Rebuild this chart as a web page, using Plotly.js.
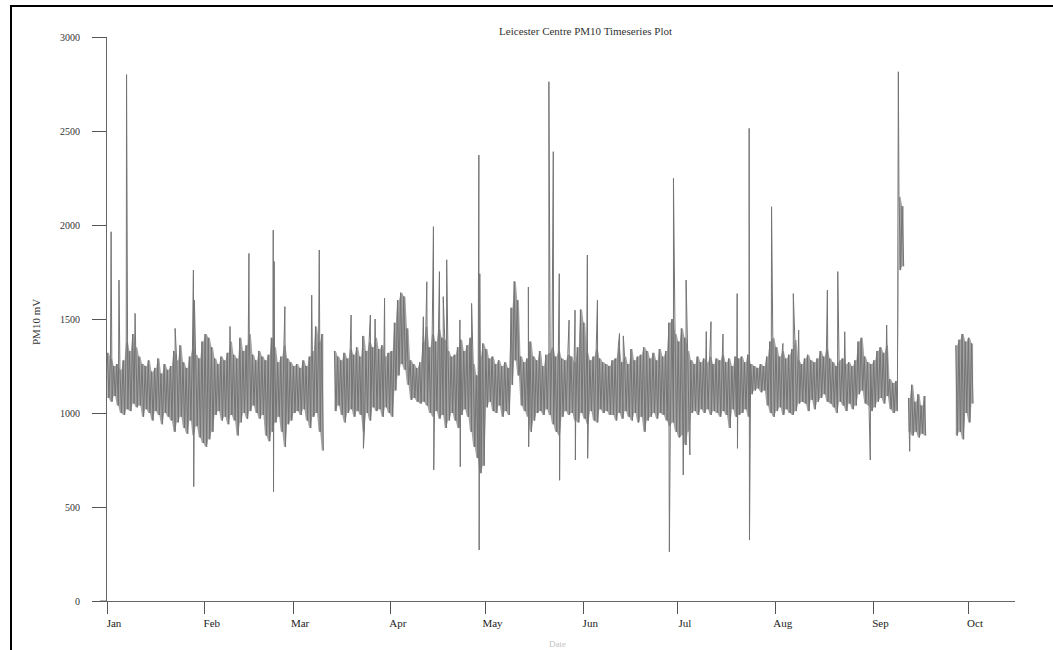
<!DOCTYPE html>
<html>
<head>
<meta charset="utf-8">
<script src="https://cdn.plot.ly/plotly-3.0.1.min.js"></script>
<style>html,body{margin:0;padding:0;background:#fff;}#chart{width:1053px;height:650px;}</style>
</head>
<body>
<div id="chart"></div>
<script>
// ---- Data ----
const chartTitle = 'Leicester Centre PM10 Timeseries Plot';
const yTitle = 'PM10 mV';
const xTitle = 'Date';
const monthLabels = ['Jan','Feb','Mar','Apr','May','Jun','Jul','Aug','Sep','Oct'];
const monthStartDay = [0,31,59,90,120,151,181,212,243,273];
const yTickValues = [0,500,1000,1500,2000,2500,3000];

// daily upper and lower envelope of the dense hourly band (day 0 = 1 Jan), null = no data
const bandHigh = [
1320,1290,1250,1260,1230,1280,1380,1330,1420,1350,
1300,1260,1250,1280,1220,1240,1290,1210,1260,1230,
1250,1330,1280,1360,1270,1240,1300,1350,1310,1290,
1380,1420,1400,1350,1290,1260,1300,1280,1320,1380,
1310,1290,1400,1330,1360,1420,1310,1280,1330,1300,
1280,1310,1400,1350,1270,1300,1360,1290,1270,1250,
1260,1240,1280,1250,1300,1330,1460,1380,1420,null,
null,null,1330,1300,1280,1320,1290,1340,1310,1350,
1300,1410,1330,1380,1350,1400,1340,1360,1300,1320,
1330,1480,1600,1640,1620,1450,1280,1260,1240,1270,
1380,1460,1350,1420,1380,1450,1400,1390,1330,1300,
1310,1350,1390,1330,1360,1400,1260,1200,1300,1370,
1340,1290,1300,1260,1280,1250,1270,1240,1560,1700,
1600,1300,1270,1290,1380,1300,1280,1330,1250,1310,
1320,1350,1300,1330,1290,1280,1310,1300,1270,1350,
1550,1480,1320,1280,1300,1340,1290,1270,1260,1250,
1280,1290,1350,1270,1300,1260,1340,1280,1300,1310,
1350,1330,1290,1320,1280,1340,1300,1330,1480,1500,
1420,1380,1450,1400,1330,1280,1260,1300,1270,1290,
1270,1300,1260,1290,1280,1310,1270,1290,1250,1300,
1290,1300,1270,1310,1260,1250,1240,1260,1250,1300,
1380,1400,1350,1300,1330,1290,1310,1340,1390,1280,
1260,1290,1310,1280,1270,1290,1330,1300,1340,1290,
1270,1250,1280,1290,1260,1270,1250,1280,1380,1400,
1300,1270,1260,1280,1330,1350,1320,1360,1180,1160,
1170,2150,2100,null,1080,1150,1060,1100,1040,1090,
null,null,null,null,null,null,null,null,null,1360,
1390,1420,1380,1400,1370
];
const bandLow = [
1080,1060,1090,1040,1000,990,1020,1010,1050,1030,
1040,980,1020,1000,960,1010,990,940,1000,980,
960,900,950,980,920,890,960,880,930,870,
840,820,860,900,990,1010,960,980,940,990,
960,880,950,1000,970,1010,1040,1000,970,990,
880,850,900,950,980,900,820,940,960,1000,
1010,990,1020,960,920,980,1000,900,800,null,
null,null,1010,1040,990,950,1000,1020,980,1010,
990,900,1000,960,1030,1010,1020,980,1030,1000,
980,1120,1200,1260,1230,1150,1070,1080,1060,1050,
1060,1040,1000,980,1010,970,990,920,960,1000,
960,920,990,1020,980,900,820,760,680,720,
1030,1060,1010,1000,1040,980,1010,990,1150,1280,
1200,1040,1010,980,900,960,1000,1010,990,1020,
990,940,900,880,980,1010,990,1000,960,950,
1000,970,940,1010,960,950,1020,1000,1010,990,
990,960,1000,970,1010,980,960,1000,950,980,
900,960,980,1000,970,1000,990,960,930,950,
900,870,880,830,900,1000,1010,990,1020,1000,
1020,990,1010,1000,980,1010,990,920,1020,980,
990,1000,1020,980,1100,1120,1130,1110,1120,1040,
1000,980,1010,1030,990,1020,1000,990,1010,1050,
1060,1050,1010,1070,1020,1060,1080,1100,1060,1050,
1030,1000,1060,1040,1010,1050,1020,1040,1100,1120,
1050,1040,1010,1030,1060,1080,1050,1090,1020,1000,
1010,1760,1780,null,900,880,900,870,890,880,
null,null,null,null,null,null,null,null,null,880,
900,860,1000,950,1050
];

// isolated hourly excursions (spikes): day of year (fractional) and value
const spikeDay = [1.3,3.8,6.2,8.9,21.6,27.4,27.5,27.7,39.0,45.0,52.7,52.8,53.0,56.4,64.9,67.3,77.4,81.3,83.5,85.0,88.0,
  100.3,101.4,103.5,103.6,105.4,106.6,107.7,111.9,112.0,115.6,117.9,118.0,118.2,133.6,133.7,140.1,141.5,143.4,143.5,
  146.5,148.4,148.5,152.3,152.4,155.5,162.5,163.7,178.3,179.6,182.7,183.6,184.8,190.0,191.5,195.3,199.8,199.9,
  203.6,203.7,210.7,214.3,217.6,219.3,228.4,231.7,233.9,242.0,247.2,250.9,254.5];
const spikeValue = [1964,1707,2800,1530,1450,1760,608,1600,1460,1849,1973,581,1806,1566,1627,1867,1521,812,1521,1500,1610,
  1512,1698,1991,697,1752,1619,1815,1495,714,1583,2372,271,1741,1670,820,2762,2390,1741,642,
  1494,1547,750,1840,759,1600,1423,1410,262,2248,670,1707,777,1433,1486,1420,1635,812,
  2514,324,2097,1370,1635,1441,1654,1752,1432,750,1468,2815,796];

// ---- Build the series ----
const DAY = 86400000;
const t0 = Date.UTC(2005,0,1);
const toMs = d => t0 + d * DAY;

// zig-zag line through the daily envelope plus spikes
const pts = [];
for (let i = 0; i < bandHigh.length; i++) {
  if (bandHigh[i] === null) { pts.push([i + 0.5, null]); continue; }
  pts.push([i + 0.1, bandHigh[i]]);
  pts.push([i + 0.6, bandLow[i]]);
}
for (let k = 0; k < spikeDay.length; k++) pts.push([spikeDay[k], spikeValue[k]]);
pts.sort((a, b) => a[0] - b[0]);

// filled envelope polygons, one per contiguous run of data
const fx = [], fy = [];
let run = [];
const flush = () => {
  if (!run.length) return;
  run.forEach(i => { fx.push(toMs(i + 0.1)); fy.push(bandHigh[i]); fx.push(toMs(i + 0.6)); fy.push(bandHigh[i]); });
  run.slice().reverse().forEach(i => { fx.push(toMs(i + 0.6)); fy.push(bandLow[i]); fx.push(toMs(i + 0.1)); fy.push(bandLow[i]); });
  fx.push(null); fy.push(null);
  run = [];
};
for (let i = 0; i < bandHigh.length; i++) { if (bandHigh[i] === null) flush(); else run.push(i); }
flush();

const serif = 'Liberation Serif, DejaVu Serif, serif';
const bandTrace = {
  x: fx, y: fy, type: 'scatter', mode: 'lines', fill: 'toself', fillcolor: '#a3a3a3',
  line: {width: 0, color: 'rgba(0,0,0,0)', simplify: false}, connectgaps: false, hoverinfo: 'skip'
};
const lineTrace = {
  x: pts.map(p => toMs(p[0])), y: pts.map(p => p[1]), type: 'scatter', mode: 'lines',
  line: {color: '#747474', width: 1, simplify: false}, connectgaps: false, hoverinfo: 'skip'
};

const plotLeft = 107, plotRight = 1015, plotTop = 37, plotBottom = 601;
const plotW = plotRight - plotLeft, plotH = plotBottom - plotTop;
const pxToPaperX = px => (px - plotLeft) / plotW;
const pxToPaperY = py => (plotBottom - py) / plotH;

const layout = {
  width: 1053, height: 650,
  margin: {l: plotLeft, r: 1053 - plotRight, t: plotTop, b: 650 - plotBottom, pad: 0},
  paper_bgcolor: '#ffffff', plot_bgcolor: '#ffffff',
  showlegend: false,
  title: {text: chartTitle, font: {family: serif, size: 11, color: '#333'},
          x: 555/1053, xanchor: 'center', xref: 'paper', y: 1 - 31/650, yanchor: 'middle', yref: 'container'},
  xaxis: {
    type: 'date', range: [t0, toMs(plotW / 3.154)],
    tickmode: 'array', tickvals: monthStartDay.map(toMs), ticktext: monthLabels,
    ticks: 'outside', ticklen: 12, tickwidth: 1, tickcolor: '#555',
    showline: true, linecolor: '#666', linewidth: 1,
    showgrid: false, zeroline: false, ticklabelshift: 7,
    tickfont: {family: serif, size: 11, color: '#222'}
  },
  yaxis: {
    range: [0, 3000], tickmode: 'array', tickvals: yTickValues,
    ticks: 'outside', ticklen: 14, tickwidth: 1, tickcolor: '#555',
    showline: true, linecolor: '#666', linewidth: 1,
    showgrid: false, zeroline: false, ticklabelstandoff: 10,
    tickfont: {family: serif, size: 10, color: '#333'}
  },
  shapes: [
    {type: 'line', xref: 'paper', yref: 'paper', x0: pxToPaperX(100), x1: 0, y0: 0, y1: 0, line: {color: '#666', width: 1}},
    {type: 'line', xref: 'paper', yref: 'paper', x0: pxToPaperX(11), x1: pxToPaperX(11), y0: pxToPaperY(5), y1: pxToPaperY(652), line: {color: '#000', width: 2}},
    {type: 'line', xref: 'paper', yref: 'paper', x0: pxToPaperX(10), x1: pxToPaperX(1060), y0: pxToPaperY(6), y1: pxToPaperY(6), line: {color: '#000', width: 2}}
  ],
  annotations: [
    {text: yTitle, textangle: -90, xref: 'paper', yref: 'paper', x: pxToPaperX(36), y: pxToPaperY(322),
     xanchor: 'center', yanchor: 'middle', showarrow: false, font: {family: serif, size: 11, color: '#333'}},
    {text: xTitle, xref: 'paper', yref: 'paper', x: pxToPaperX(557), y: pxToPaperY(637),
     xanchor: 'center', yanchor: 'top', showarrow: false, font: {family: serif, size: 9, color: '#c4c4c4'}}
  ]
};

Plotly.newPlot('chart', [bandTrace, lineTrace], layout, {staticPlot: true, displayModeBar: false});
</script>
</body>
</html>
